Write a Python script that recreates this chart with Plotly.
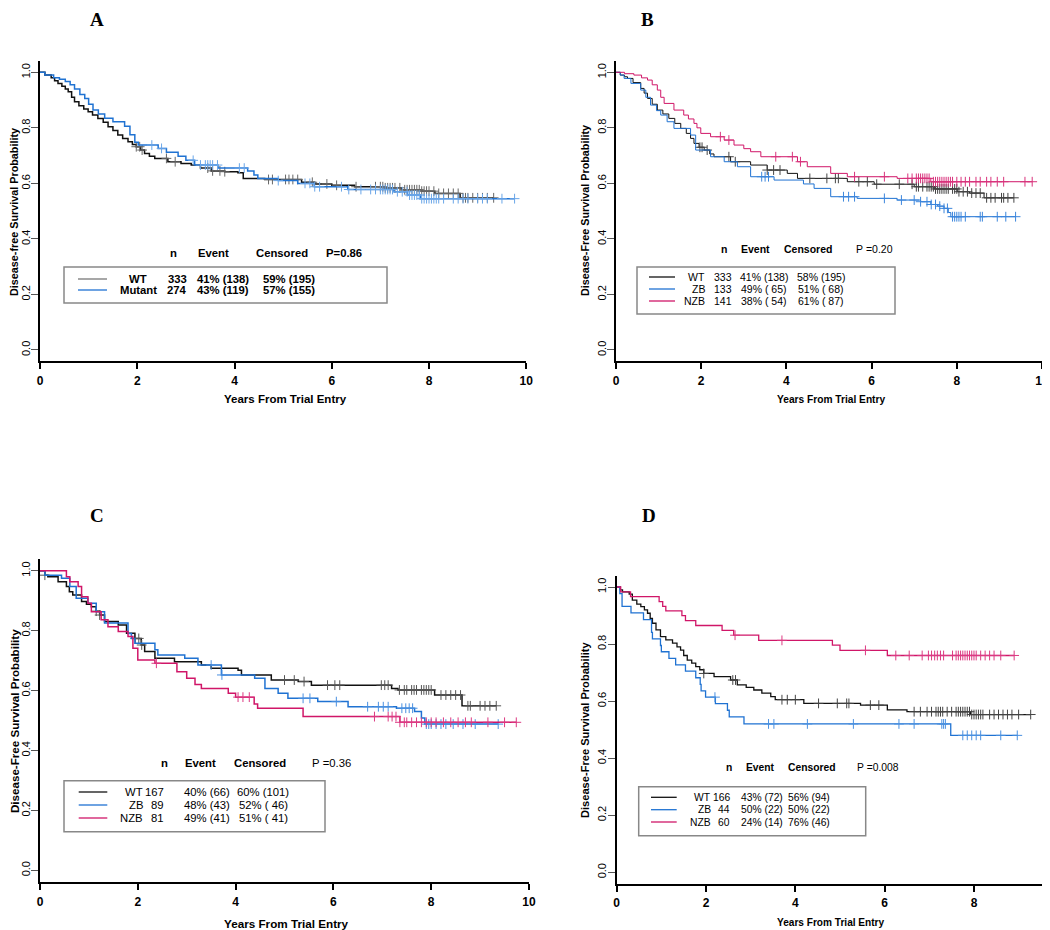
import numpy as np
import plotly.graph_objects as go

# ---- data ----
# *_t: event times (years), *_s: survival right after each step, *_c: censor times

# Panel A
a_wt_t = [0.1, 0.23, 0.3, 0.37, 0.45, 0.52, 0.58, 0.65, 0.71, 0.8, 0.9, 0.99, 1.08, 1.19, 1.3,
          1.4, 1.5, 1.6, 1.7, 1.81, 1.9, 1.98, 2.07, 2.15, 2.25, 2.36, 2.63, 2.9, 3.11, 3.3,
          3.52, 3.8, 4.07, 4.18, 4.62, 5.38, 5.65, 6.0, 6.47, 7.09, 7.43, 7.85, 8.12, 8.64]
a_wt_s = [0.99, 0.98, 0.97, 0.96, 0.95, 0.94, 0.93, 0.91, 0.894, 0.88, 0.868, 0.858, 0.846, 0.834, 0.82,
          0.804, 0.79, 0.774, 0.762, 0.75, 0.74, 0.732, 0.72, 0.708, 0.698, 0.69, 0.678, 0.672, 0.666, 0.655,
          0.645, 0.642, 0.638, 0.618, 0.614, 0.604, 0.598, 0.593, 0.588, 0.584, 0.577, 0.572, 0.564, 0.548]
a_wt_c = [1.98, 2.05, 2.1, 2.6, 2.78, 3.45, 3.55, 3.7, 3.8, 4.7, 4.78, 5.05, 5.12, 5.2, 5.3, 5.6, 5.9,
          6.1, 6.5, 6.9, 7.0, 7.05, 7.1, 7.15, 7.2, 7.25, 7.3, 7.4, 7.5, 7.55, 7.6, 7.65, 7.7, 7.75,
          7.8, 7.85, 7.9, 7.95, 8.0, 8.1, 8.2, 8.3, 8.4, 8.5, 8.6, 8.7, 8.75, 8.8, 8.9, 9.0, 9.1, 9.2, 9.33]
a_mut_t = [0.1, 0.28, 0.4, 0.52, 0.62, 0.71, 0.82, 0.92, 1.0, 1.09, 1.2, 1.33, 1.5, 1.74, 1.85, 1.95,
           2.02, 2.43, 2.6, 2.84, 3.0, 3.18, 3.66, 4.27, 4.4, 4.48, 4.9, 5.3, 5.64, 6.33, 7.28, 7.56, 7.83]
a_mut_s = [0.99, 0.98, 0.975, 0.967, 0.955, 0.94, 0.92, 0.906, 0.885, 0.864, 0.85, 0.835, 0.822, 0.806,
           0.775, 0.748, 0.738, 0.726, 0.712, 0.698, 0.683, 0.666, 0.655, 0.645, 0.63, 0.618, 0.61, 0.6,
           0.588, 0.578, 0.57, 0.558, 0.545]
a_mut_c = [2.3, 2.5, 3.15, 3.3, 3.4, 3.45, 3.5, 3.55, 3.65, 4.1, 4.2, 4.9, 5.45, 5.55, 5.65, 5.75, 6.2,
           6.35, 6.6, 6.8, 6.9, 7.0, 7.05, 7.1, 7.15, 7.2, 7.25, 7.35, 7.45, 7.55, 7.6, 7.65, 7.7, 7.75,
           7.8, 7.85, 7.9, 7.95, 8.0, 8.05, 8.1, 8.15, 8.2, 8.3, 8.5, 8.6, 8.7, 8.8, 9.0, 9.1, 9.2, 9.5, 9.76]

# Panel B
b_wt_t = [0.1, 0.2, 0.27, 0.4, 0.58, 0.66, 0.74, 0.85, 0.97, 1.1, 1.24, 1.38, 1.52, 1.65, 1.75, 1.83,
          1.95, 2.07, 2.2, 2.3, 2.69, 3.16, 3.55, 4.02, 4.26, 5.43, 6.06, 7.0, 7.47, 8.01, 8.3, 8.64]
b_wt_s = [0.99, 0.984, 0.978, 0.963, 0.942, 0.925, 0.906, 0.885, 0.864, 0.85, 0.834, 0.816, 0.798, 0.78,
          0.762, 0.744, 0.73, 0.72, 0.706, 0.696, 0.678, 0.666, 0.648, 0.636, 0.618, 0.606, 0.597, 0.588,
          0.58, 0.57, 0.565, 0.548]
b_wt_c = [1.97, 2.02, 2.14, 2.65, 2.8, 3.55, 3.7, 3.85, 4.55, 4.95, 5.15, 5.22, 5.7, 5.9, 6.12, 6.65,
          6.95, 7.05, 7.1, 7.2, 7.3, 7.35, 7.4, 7.45, 7.5, 7.55, 7.6, 7.65, 7.7, 7.75, 7.8, 7.9, 7.95,
          8.0, 8.05, 8.15, 8.25, 8.35, 8.45, 8.55, 8.7, 8.8, 8.9, 9.05, 9.1, 9.2, 9.34]
b_zb_t = [0.1, 0.19, 0.35, 0.58, 0.7, 0.81, 0.95, 1.05, 1.2, 1.36, 1.75, 1.87, 2.22, 2.54, 2.85, 3.16,
          3.71, 4.4, 4.65, 5.04, 5.66, 6.6, 7.15, 7.39, 7.55, 7.7, 7.8, 7.86]
b_zb_s = [0.99, 0.978, 0.96, 0.936, 0.91, 0.882, 0.862, 0.846, 0.822, 0.798, 0.774, 0.72, 0.696, 0.678,
          0.66, 0.624, 0.612, 0.598, 0.582, 0.552, 0.546, 0.54, 0.534, 0.524, 0.518, 0.51, 0.495, 0.48]
b_zb_c = [3.42, 3.5, 3.58, 5.34, 5.46, 5.6, 6.3, 6.7, 7.0, 7.15, 7.3, 7.4, 7.5, 7.6, 7.7, 7.78, 7.9,
          7.95, 8.0, 8.05, 8.1, 8.2, 8.55, 8.6, 8.95, 9.15, 9.38]
b_nzb_t = [0.2, 0.42, 0.6, 0.74, 0.85, 0.97, 1.05, 1.13, 1.36, 1.59, 1.7, 1.83, 1.9, 1.99, 2.22, 2.54,
           2.77, 3.0, 3.16, 3.4, 4.26, 4.49, 5.04, 5.43, 6.6, 7.39]
b_nzb_s = [0.995, 0.99, 0.98, 0.972, 0.955, 0.936, 0.91, 0.888, 0.864, 0.846, 0.832, 0.816, 0.8, 0.78,
           0.768, 0.756, 0.738, 0.725, 0.714, 0.696, 0.678, 0.66, 0.636, 0.624, 0.618, 0.606]
b_nzb_c = [2.45, 2.65, 3.75, 4.14, 4.33, 5.6, 6.3, 6.85, 6.95, 7.05, 7.1, 7.15, 7.2, 7.25, 7.3, 7.35,
           7.45, 7.5, 7.55, 7.6, 7.65, 7.7, 7.75, 7.8, 7.85, 7.9, 8.0, 8.1, 8.2, 8.3, 8.45, 8.55, 8.7,
           8.8, 8.95, 9.1, 9.6, 9.77]

# Panel C
c_wt_t = [0.1, 0.16, 0.37, 0.54, 0.6, 0.67, 0.85, 0.95, 1.05, 1.15, 1.22, 1.32, 1.6, 1.77, 1.94, 2.07,
          2.14, 2.35, 2.75, 3.3, 3.5, 4.05, 4.12, 4.73, 5.28, 5.55, 7.19, 7.32, 8.07, 8.63]
c_wt_s = [0.985, 0.98, 0.963, 0.947, 0.93, 0.919, 0.897, 0.888, 0.88, 0.865, 0.852, 0.83, 0.819, 0.791,
          0.774, 0.752, 0.73, 0.708, 0.696, 0.685, 0.674, 0.668, 0.652, 0.635, 0.63, 0.618, 0.607, 0.602,
          0.585, 0.549]
c_wt_c = [0.1, 1.15, 1.22, 1.95, 2.02, 2.08, 5.0, 5.2, 5.4, 5.88, 6.03, 6.13, 6.98, 7.05, 7.12, 7.35,
          7.45, 7.5, 7.6, 7.65, 7.7, 7.8, 7.85, 7.9, 7.95, 8.0, 8.2, 8.3, 8.4, 8.5, 8.6, 8.75, 8.8, 9.0,
          9.1, 9.2, 9.33]
c_zb_t = [0.1, 0.44, 0.61, 0.74, 0.98, 1.15, 1.32, 1.8, 1.87, 1.94, 2.35, 2.41, 2.96, 3.23, 3.71, 4.39,
          4.6, 4.87, 5.07, 5.68, 6.3, 7.29, 7.66, 7.8, 7.87]
c_zb_s = [0.985, 0.975, 0.947, 0.908, 0.891, 0.863, 0.825, 0.79, 0.774, 0.758, 0.736, 0.719, 0.708,
          0.685, 0.652, 0.641, 0.607, 0.591, 0.574, 0.563, 0.546, 0.541, 0.53, 0.508, 0.488]
c_zb_c = [3.5, 3.72, 5.38, 5.52, 6.06, 6.7, 6.92, 7.02, 7.12, 7.4, 7.48, 7.55, 7.62, 7.9, 7.95, 8.0,
          8.1, 8.2, 8.3, 8.45, 8.65, 8.9, 9.37]
c_nzb_t = [0.54, 0.61, 0.78, 0.85, 0.98, 1.05, 1.25, 1.39, 1.6, 1.8, 1.9, 2.0, 2.35, 2.8, 3.0, 3.17,
           3.3, 3.85, 4.0, 4.38, 4.45, 5.38, 7.36]
c_nzb_s = [0.98, 0.963, 0.947, 0.913, 0.891, 0.863, 0.836, 0.813, 0.797, 0.78, 0.741, 0.702, 0.691,
           0.663, 0.641, 0.62, 0.607, 0.591, 0.578, 0.555, 0.541, 0.513, 0.494]
c_nzb_c = [2.38, 4.05, 4.15, 4.28, 6.84, 7.12, 7.2, 7.28, 7.36, 7.45, 7.5, 7.6, 7.7, 7.8, 7.9, 8.0,
           8.1, 8.25, 8.4, 8.55, 8.7, 8.82, 9.16, 9.5, 9.74]

# Panel D
d_wt_t = [0.08, 0.13, 0.28, 0.35, 0.45, 0.54, 0.62, 0.69, 0.75, 0.8, 0.88, 0.98, 1.1, 1.25, 1.35, 1.43,
          1.5, 1.58, 1.68, 1.77, 1.86, 1.95, 2.18, 2.55, 2.7, 2.9, 3.07, 3.25, 3.45, 3.55, 4.19, 5.46,
          6.06, 6.5, 7.92]
d_wt_s = [0.99, 0.983, 0.975, 0.954, 0.94, 0.931, 0.92, 0.908, 0.89, 0.873, 0.85, 0.826, 0.815, 0.803,
          0.79, 0.779, 0.76, 0.744, 0.733, 0.721, 0.71, 0.697, 0.686, 0.674, 0.657, 0.648, 0.639, 0.628,
          0.616, 0.605, 0.592, 0.586, 0.569, 0.563, 0.553]
d_wt_c = [1.95, 2.6, 2.66, 3.7, 3.82, 4.0, 4.52, 4.94, 5.15, 5.2, 5.68, 5.87, 6.66, 6.8, 6.95, 7.05,
          7.15, 7.2, 7.25, 7.3, 7.4, 7.5, 7.6, 7.65, 7.7, 7.75, 7.8, 7.85, 7.9, 7.95, 8.0, 8.05, 8.1,
          8.15, 8.2, 8.35, 8.45, 8.55, 8.65, 8.75, 8.85, 9.0, 9.27]
d_zb_t = [0.07, 0.12, 0.32, 0.6, 0.78, 0.8, 0.98, 1.0, 1.17, 1.32, 1.54, 1.77, 1.87, 1.89, 1.99, 2.21,
          2.48, 2.52, 2.85, 7.48]
d_zb_s = [0.977, 0.932, 0.909, 0.886, 0.841, 0.818, 0.795, 0.773, 0.75, 0.727, 0.705, 0.682, 0.659,
          0.636, 0.614, 0.591, 0.568, 0.545, 0.52, 0.48]
d_zb_c = [2.2, 3.4, 3.52, 4.27, 5.3, 6.32, 6.66, 7.28, 7.32, 7.36, 7.75, 7.85, 7.95, 8.05, 8.15, 8.6, 8.97]
d_nzb_t = [0.09, 0.31, 0.95, 1.03, 1.1, 1.46, 1.54, 1.77, 2.36, 2.62, 3.18, 4.83, 5.0, 6.06]
d_nzb_s = [0.983, 0.966, 0.949, 0.932, 0.916, 0.9, 0.882, 0.865, 0.848, 0.831, 0.813, 0.796, 0.778, 0.76]
d_nzb_c = [2.65, 3.7, 5.57, 6.25, 6.55, 6.84, 6.98, 7.05, 7.12, 7.18, 7.25, 7.32, 7.52, 7.6, 7.65,
           7.7, 7.75, 7.8, 7.85, 7.9, 7.95, 8.0, 8.05, 8.15, 8.25, 8.35, 8.45, 8.6, 8.9]

# legend tables
a_groups = ["WT", "Mutant"]
a_n = [333, 274]
a_event = ["41% (138)", "43% (119)"]
a_cens = ["59% (195)", "57% (155)"]
a_p = "P=0.86"

b_groups = ["WT", "ZB", "NZB"]
b_n = [333, 133, 141]
b_event = ["41% (138)", "49% ( 65)", "38% ( 54)"]
b_cens = ["58% (195)", "51% ( 68)", "61% ( 87)"]
b_p = "P =0.20"

c_groups = ["WT", "ZB", "NZB"]
c_n = [167, 89, 81]
c_event = ["40% (66)", "48% (43)", "49% (41)"]
c_cens = ["60% (101)", "52% ( 46)", "51% ( 41)"]
c_p = "P =0.36"

d_groups = ["WT", "ZB", "NZB"]
d_n = [166, 44, 60]
d_event = ["43% (72)", "50% (22)", "24% (14)"]
d_cens = ["56% (94)", "50% (22)", "76% (46)"]
d_p = "P =0.008"

# ---- styling / layout ----
# the page puts the figure 8px in from the top-left corner, so positions below are
# given in window pixels and shifted back by that offset
OFF = 8
W, H = 1050 - OFF, 930 - OFF
SANS = "Liberation Sans, Arial, sans-serif"
SERIF = "Liberation Serif, Times New Roman, serif"
BLACK = "#111111"
BLUE = "#1f72d2"
PINK = "#d01668"


def px(x):
    return (x - OFF) / W


def py(y):
    return 1 - (y - OFF) / H


def surv_at(times, surv, t):
    s = np.concatenate([[1.0], surv])
    idx = np.searchsorted(np.asarray(times), np.asarray(t), side="right")
    return s[idx]


PANELS = {
    "A": dict(
        curves=[(a_wt_t, a_wt_s, a_wt_c, BLACK, "#666666"), (a_mut_t, a_mut_s, a_mut_c, BLUE, "#6aa6e8")],
        leg_colors=["#777777", BLUE],
        groups=a_groups, n=a_n, event=a_event, cens=a_cens, p=a_p,
        x0=40, x1=526.25, xmax=10, xticks=[0, 2, 4, 6, 8, 10], yb=361.1, yt=61.2, lw=1.5,
        letter=(96.7, 20), ytitle=("Disease-free Survival Probability", 14, 212, 10.8),
        xtitle=(285, 399, 11.5), box=(64, 267, 387, 303), seg=(78, 107), rows=[279, 290],
        head_y=253, head_x=(173, 213, 282, 344), p_bold=True,
        cols=(138, 177, 223, 289), label_anchor="center", n_anchor="center",
        fsize=11.3, bold=True,
    ),
    "B": dict(
        curves=[(b_wt_t, b_wt_s, b_wt_c, BLACK, "#444444"), (b_zb_t, b_zb_s, b_zb_c, BLUE, "#3c86dc"),
                (b_nzb_t, b_nzb_s, b_nzb_c, PINK, "#d8337c")],
        leg_colors=[BLACK, BLUE, PINK],
        groups=b_groups, n=b_n, event=b_event, cens=b_cens, p=b_p,
        x0=616, x1=1042, xmax=10, xticks=[0, 2, 4, 6, 8, 10], yb=361.1, yt=61.2, lw=1.0,
        letter=(647.7, 20), ytitle=("Disease-Free Survival Probability", 585, 211, 10.8),
        xtitle=(831, 399, 10.2), box=(637, 267, 895, 314), seg=(649, 675), rows=[277, 289, 301],
        head_y=249, head_x=(724, 755.7, 807.7, 874), p_bold=False,
        cols=(707, 722.7, 764, 820.7), label_anchor="right", n_anchor="center",
        fsize=10.5, bold=False,
    ),
    "C": dict(
        curves=[(c_wt_t, c_wt_s, c_wt_c, BLACK, "#555555"), (c_zb_t, c_zb_s, c_zb_c, BLUE, "#4a90e0"),
                (c_nzb_t, c_nzb_s, c_nzb_c, PINK, "#dc3a82")],
        leg_colors=[BLACK, BLUE, PINK],
        groups=c_groups, n=c_n, event=c_event, cens=c_cens, p=c_p,
        x0=40, x1=529, xmax=10, xticks=[0, 2, 4, 6, 8, 10], yb=882.3, yt=558.7, lw=1.5,
        letter=(96.7, 515), ytitle=("Disease-Free Survival Probability", 14, 721, 11.6),
        xtitle=(286.7, 923, 11.7), box=(64, 780.7, 325, 831.7), seg=(78.7, 107.3),
        rows=[792, 805, 818],
        head_y=762.5, head_x=(164, 200, 260, 331.7), p_bold=False,
        cols=(144.5, 166, 207, 263), label_anchor="right", n_anchor="right",
        fsize=11.3, bold=False,
    ),
    "D": dict(
        curves=[(d_wt_t, d_wt_s, d_wt_c, BLACK, "#444444"), (d_zb_t, d_zb_s, d_zb_c, BLUE, "#4a90e0"),
                (d_nzb_t, d_nzb_s, d_nzb_c, PINK, "#dc3a82")],
        leg_colors=[BLACK, BLUE, PINK],
        groups=d_groups, n=d_n, event=d_event, cens=d_cens, p=d_p,
        x0=616.7, x1=1046, xmax=9.613, xticks=[0, 2, 4, 6, 8], yb=883.7, yt=575.6, lw=1.3,
        letter=(649, 515), ytitle=("Disease-Free Survival Probability", 585, 730, 11.1),
        xtitle=(830.7, 922, 10.1), box=(638.7, 786.7, 865.7, 835.7), seg=(651, 676.7),
        rows=[797.3, 809.7, 822],
        head_y=767.3, head_x=(729, 760, 811.7, 877.7), p_bold=False,
        cols=(712.7, 732, 761.7, 809), label_anchor="right", n_anchor="right",
        fsize=10.3, bold=False,
    ),
}

fig = go.Figure()
annotations = []
shapes = []
layout = {}


def note(text, x, y, size, family=SANS, bold=False, anchor="center", angle=0, color="black"):
    annotations.append(dict(
        text=text.replace(" ", "\u00a0"), x=px(x), y=py(y), xref="paper", yref="paper",
        showarrow=False, xanchor=anchor, yanchor="middle", textangle=angle,
        font=dict(family=family, size=size, color=color, weight="bold" if bold else "normal"),
    ))


for i, (key, cfg) in enumerate(PANELS.items(), start=1):
    sfx = "" if i == 1 else str(i)
    xa, ya = "x" + sfx, "y" + sfx

    for times, surv, cens, color, mcolor in cfg["curves"]:
        end = max(max(cens), times[-1])
        fig.add_trace(go.Scatter(
            x=[0] + list(times) + [end], y=[1.0] + list(surv) + [surv[-1]],
            mode="lines", line=dict(color=color, width=cfg["lw"], shape="hv"),
            xaxis=xa, yaxis=ya, showlegend=False, hoverinfo="skip",
        ))
        fig.add_trace(go.Scatter(
            x=cens, y=surv_at(times, surv, cens), mode="markers",
            marker=dict(symbol="cross-thin", size=7, line=dict(color=mcolor, width=1)),
            xaxis=xa, yaxis=ya, showlegend=False, hoverinfo="skip",
        ))

    layout["xaxis" + sfx] = dict(
        domain=[px(cfg["x0"]), px(cfg["x1"])], range=[0, cfg["xmax"]], anchor=ya,
        showgrid=False, zeroline=False, showline=True, linecolor="black", linewidth=2,
        ticks="outside", ticklen=6, tickwidth=1.5, tickcolor="black",
        tickvals=cfg["xticks"], ticktext=[str(v) for v in cfg["xticks"]],
        tickfont=dict(family=SANS, size=12, color="black", weight="bold"), ticklabelstandoff=1,
    )
    layout["yaxis" + sfx] = dict(
        domain=[py(cfg["yb"]), py(cfg["yt"])], range=[-0.04, 1.04], anchor=xa,
        showgrid=False, zeroline=False, showline=True, linecolor="black", linewidth=2,
        ticks="outside", ticklen=7, tickwidth=1, tickcolor="#555555",
        tickvals=[0, 0.2, 0.4, 0.6, 0.8, 1.0], ticktext=["0.0", "0.2", "0.4", "0.6", "0.8", "1.0"],
        tickangle=-90, tickfont=dict(family=SANS, size=11, color="black"), ticklabelstandoff=-3,
    )

    # panel letter and axis titles
    note(key, cfg["letter"][0], cfg["letter"][1], 19, family=SERIF, bold=True)
    ytxt, ytx, yty, yts = cfg["ytitle"]
    note(ytxt, ytx, yty, yts, bold=True, angle=-90)
    note("Years From Trial Entry", cfg["xtitle"][0], cfg["xtitle"][1], cfg["xtitle"][2], bold=True)

    # legend table
    bx0, by0, bx1, by1 = cfg["box"]
    shapes.append(dict(type="rect", xref="paper", yref="paper", x0=px(bx0), x1=px(bx1),
                       y0=py(by1), y1=py(by0), line=dict(color="#888888", width=1.5)))
    hx = cfg["head_x"]
    fs = cfg["fsize"]
    for txt, x in zip(["n", "Event", "Censored"], hx[:3]):
        note(txt, x, cfg["head_y"], fs, bold=True)
    note(cfg["p"], hx[3], cfg["head_y"], fs, bold=cfg["p_bold"])
    cl, cn, ce, cc = cfg["cols"]
    for g, nn, ev, ce_txt, ry, lc in zip(cfg["groups"], cfg["n"], cfg["event"], cfg["cens"],
                                         cfg["rows"], cfg["leg_colors"]):
        shapes.append(dict(type="line", xref="paper", yref="paper", x0=px(cfg["seg"][0]),
                           x1=px(cfg["seg"][1]), y0=py(ry), y1=py(ry),
                           line=dict(color=lc, width=1.3)))
        note(g, cl, ry, fs, bold=cfg["bold"], anchor=cfg["label_anchor"])
        note(str(nn), cn, ry, fs, bold=cfg["bold"], anchor=cfg["n_anchor"])
        note(ev, ce, ry, fs, bold=cfg["bold"])
        note(ce_txt, cc, ry, fs, bold=cfg["bold"])

fig.update_layout(
    width=W, height=H, margin=dict(l=0, r=0, t=0, b=0, autoexpand=False),
    paper_bgcolor="white", plot_bgcolor="white", showlegend=False,
    annotations=annotations, shapes=shapes, **layout,
)

fig.write_html("out.html")
